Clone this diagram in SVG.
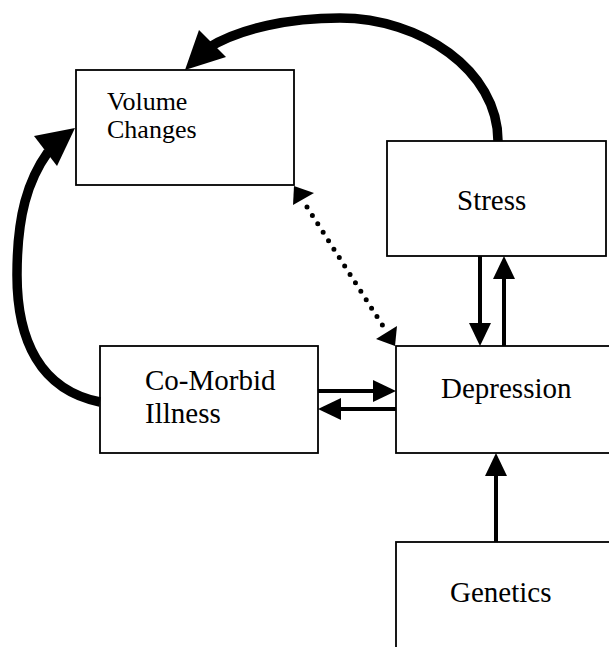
<svg xmlns="http://www.w3.org/2000/svg" width="609" height="647" viewBox="0 0 609 647">
<style>
.box{fill:#fff;stroke:#000;stroke-width:1.8}
.lbl{font-family:"Liberation Serif","Times New Roman",serif;font-size:29px;fill:#000}
.sm{font-size:26px}
.thick{fill:none;stroke:#000;stroke-width:9.5;stroke-linecap:butt}
.thin{fill:none;stroke:#000;stroke-width:4}
.dot{fill:none;stroke:#000;stroke-width:5;stroke-linecap:round;stroke-dasharray:0 10}
.head{fill:#000;stroke:none}
</style>
<rect width="609" height="647" fill="#fff"/>
<g id="volume-changes">
<rect class="box" x="76" y="70" width="218" height="115"/>
<text class="lbl sm" x="107" y="110">Volume</text>
<text class="lbl sm" x="107" y="138">Changes</text>
</g>
<g id="stress">
<rect class="box" x="387" y="141" width="219" height="115"/>
<text class="lbl" x="457" y="210">Stress</text>
</g>
<g id="co-morbid-illness">
<rect class="box" x="100" y="346" width="218" height="107"/>
<text class="lbl" x="145" y="390">Co-Morbid</text>
<text class="lbl" x="145" y="423">Illness</text>
</g>
<g id="depression">
<rect class="box" x="396" y="346" width="230" height="107"/>
<text class="lbl" x="441" y="398">Depression</text>
</g>
<g id="genetics">
<rect class="box" x="396" y="542" width="230" height="120"/>
<text class="lbl" x="450" y="602">Genetics</text>
</g>
<g id="connectors">
<path class="thick" d="M498,141 C498,70 420,18 340,18 C290,18 240,28 208,48"/>
<polygon class="head" points="185,70 199,30 226,57"/>
<path class="thick" d="M100,402 C40,390 17,340 17,275 C17,215 28,180 48,152"/>
<polygon class="head" points="75,128 34,136 57,166"/>
<path class="dot" d="M307,207 L383,326"/>
<polygon class="head" points="294,186 314,193 293,205"/>
<polygon class="head" points="395,346 397,326 376,339"/>
<line class="thin" x1="480" y1="256" x2="480" y2="325"/>
<polygon class="head" points="480,346 469,323 491,323"/>
<line class="thin" x1="504" y1="346" x2="504" y2="277"/>
<polygon class="head" points="504,256 493,279 515,279"/>
<line class="thin" x1="318" y1="391" x2="375" y2="391"/>
<polygon class="head" points="396,391 373,380 373,402"/>
<line class="thin" x1="396" y1="409" x2="339" y2="409"/>
<polygon class="head" points="318,409 341,398 341,420"/>
<line class="thin" x1="496" y1="542" x2="496" y2="474"/>
<polygon class="head" points="496,453 485,476 507,476"/>
</g>
</svg>
